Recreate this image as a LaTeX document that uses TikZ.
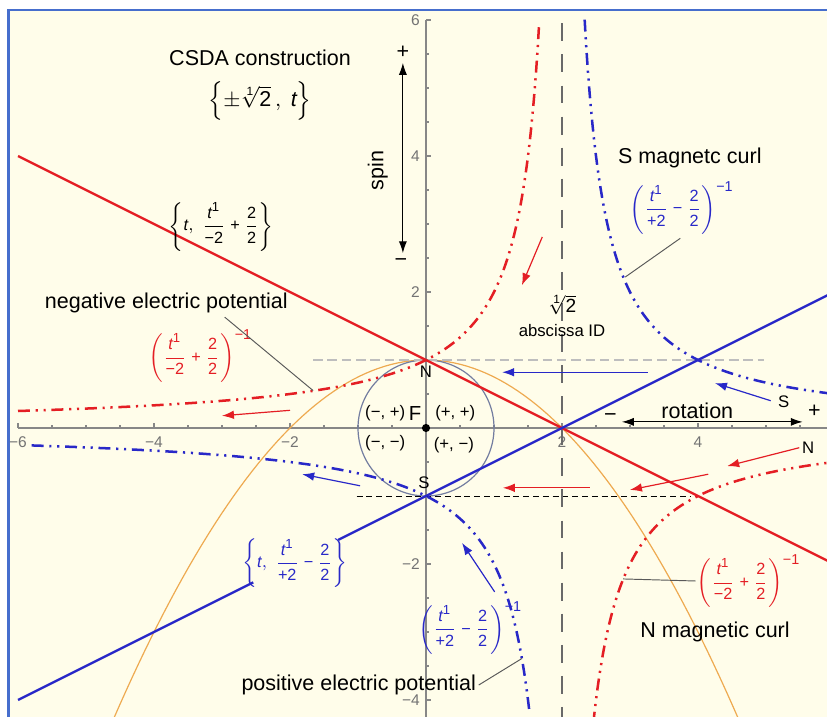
\documentclass[tikz,border=0pt]{standalone}
\usepackage{amsmath}
\usepackage{fontspec}
\setmainfont{Liberation Sans}
\usepackage{tikz}
\usetikzlibrary{arrows.meta}

\definecolor{fundo}{RGB}{255,253,234}
\definecolor{moldura}{RGB}{70,110,205}
\definecolor{vermelho}{RGB}{228,30,36}
\definecolor{azul}{RGB}{40,40,200}
\definecolor{laranja}{RGB}{238,170,80}
\definecolor{circulo}{RGB}{115,125,160}
\definecolor{eixocor}{RGB}{135,135,135}
\definecolor{numcor}{RGB}{115,115,115}
\definecolor{cinzaclaro}{RGB}{190,190,190}
\definecolor{cinzaescuro}{RGB}{105,105,105}

\newcommand{\tum}{\textit{t}^{\hbox{\fontsize{5.5}{6}\selectfont 1}}}
\newcommand{\tn}[1]{\text{#1}}
\newcommand{\menosum}{^{\hbox{\fontsize{6}{7}\selectfont −1}}}

\begin{document}
\begin{tikzpicture}[
  font=\fontsize{9}{10}\selectfont,
  eixo/.style={draw=eixocor, line width=0.45pt},
  reta/.style={line width=1pt},
  curva/.style={line width=1.05pt, dash pattern=on 5pt off 2.4pt on 0.9pt off 2.4pt on 0.9pt off 2.4pt},
  seta/.style={-{Latex[length=5pt,width=3.6pt]}, line width=0.5pt},
  dupla/.style={{Latex[length=5pt,width=3.4pt]}-{Latex[length=5pt,width=3.4pt]}, line width=0.5pt},
  chamada/.style={draw=black!65, line width=0.4pt},
  numero/.style={font=\fontsize{6.5}{7}\selectfont, text=numcor, inner sep=1pt},
  formula/.style={font=\fontsize{6.8}{8}\selectfont, inner sep=0pt},
  pequeno/.style={font=\fontsize{7}{8}\selectfont, inner sep=1pt},
  rotulo/.style={inner sep=1pt}
]

% ---------- Fundo e moldura ----------
\useasboundingbox (-6.265,-4.25) rectangle (5.897,6.294);
\fill[fundo] (-6.14,-4.25) rectangle (5.897,6.147);
\draw[moldura, line width=1.1pt] (-6.14,-4.3) -- (-6.14,6.147) -- (5.95,6.147);
\clip (-6.14,-4.25) rectangle (5.897,6.147);

% ---------- Eixos ----------
\draw[eixo] (-6,0) -- (5.9,0);
\draw[eixo] (0,-4.3) -- (0,6);
\foreach \x in {-5.5,-5,...,5.5} \draw[eixo] (\x,0) -- (\x,0.045);
\foreach \x in {-6,-4,...,4} \draw[eixo] (\x,0) -- (\x,0.08);
\foreach \y in {-4,-3.5,...,6} \draw[eixo] (0,\y) -- (0.045,\y);
\foreach \y in {-4,-2,...,6} \draw[eixo] (0,\y) -- (0.08,\y);
\foreach \x/\lbl in {-6/−6,-4/−4,-2/−2,2/2,4/4}
  \node[numero] (nx\x) at (\x,-0.21) {\lbl};
\foreach \y/\lbl in {-4/−4,-2/−2,2/2,4/4,6/6}
  \node[numero, anchor=east] (ny\y) at (-0.05,\y) {\lbl};

% ---------- Parabola, circulo, tracejadas ----------
\draw[laranja, line width=0.5pt, domain=-4.6:4.6, samples=100] plot (\x,{1-\x*\x/4});
\draw[circulo, line width=0.5pt] (0,0) circle (1);
\draw[cinzaclaro, line width=0.9pt, dash pattern=on 4pt off 2pt] (-1.66,1) -- (4.97,1);
\draw[black, line width=0.35pt, dash pattern=on 2.5pt off 1.6pt] (-1.02,-1) -- (3.88,-1);
\draw[cinzaescuro, line width=0.6pt, dash pattern=on 7.5pt off 5.5pt] (2,5.95) -- (2,-4.3);

% ---------- Retas ----------
\draw[reta, vermelho] (-6,4) -- (5.95,-1.975);
\draw[reta, azul] (-6,-4) -- (-2.54,-2.27);
\draw[reta, azul] (-1.29,-1.645) -- (5.95,1.975);

% ---------- Hiperboles ----------
\draw[curva, vermelho, domain=-6:1.667, samples=300, smooth] plot (\x,{2/(2-\x)});
\draw[curva, vermelho, domain=2.46:5.9, samples=200, smooth] plot (\x,{2/(2-\x)});
\draw[curva, azul, domain=-5.8:1.52, samples=300, smooth] plot (\x,{2/(\x-2)});
\draw[curva, azul, domain=2.333:5.9, samples=200, smooth] plot (\x,{2/(\x-2)});

% ---------- Ponto F e quadrantes ----------
\node[circle, fill=black, inner sep=0pt, minimum size=0.12cm] (F) at (0,0) {};
\node[font=\fontsize{8.5}{9}\selectfont, inner sep=1pt] (Flbl) at (-0.16,0.22) {F};
\node[pequeno] (q1) at (0.43,0.22) {(+, +)};
\node[pequeno] (q2) at (-0.6,0.22) {(−, +)};
\node[pequeno] (q3) at (-0.6,-0.22) {(−, −)};
\node[pequeno] (q4) at (0.41,-0.25) {(+, −)};
\node[pequeno] (Nlbl) at (0,0.82) {N};
\node[pequeno] (Slbl) at (-0.03,-0.81) {S};

% ---------- Titulo ----------
\node[rotulo] (tit) at (-2.44,5.44) {CSDA construction};
\node[inner sep=0pt] (titf) at (-2.44,4.81) {$\Bigl\{\pm\sqrt[\text{1}]{\text{2}}\,,\ \textit{t}\Bigr\}$};

% ---------- Spin ----------
\node[rotulo, rotate=90] (spin) at (-0.71,3.79) {spin};
\node[rotulo] (spinmais) at (-0.34,5.53) {+};
\node[rotulo] (spinmenos) at (-0.37,2.43) {−};
\coordinate (spinA) at (-0.34,2.57);
\coordinate (spinB) at (-0.34,5.37);
\draw[dupla] (spinA) -- (spinB);

% ---------- Rotation ----------
\node[rotulo] (rot) at (3.99,0.26) {rotation};
\node[rotulo] (rotmenos) at (2.71,0.15) {−};
\node[rotulo] (rotmais) at (5.71,0.24) {+};
\coordinate (rotA) at (2.88,0.09);
\coordinate (rotB) at (5.54,0.09);
\draw[dupla] (rotA) -- (rotB);

% ---------- Abscissa ----------
\node[rotulo, font=\fontsize{8}{9}\selectfont] (raiz) at (2,1.81) {$\sqrt[\text{1}]{\text{2}}$};
\node[pequeno] (absc) at (2,1.44) {abscissa ID};

% ---------- Rotulos das retas ----------
\node[formula] (fRetaV) at (-3.01,2.96)
  {$\displaystyle\left\{\textit{t},\ \frac{\tum}{\tn{−2}}\mathbin{\tn{+}}\frac{\tn{2}}{\tn{2}}\right\}$};
\node[formula, text=azul] (fRetaA) at (-1.93,-1.99)
  {$\displaystyle\left\{\textit{t},\ \frac{\tum}{\tn{+2}}\mathbin{\tn{−}}\frac{\tn{2}}{\tn{2}}\right\}$};

% ---------- Chamadas ----------
\node[rotulo] (negpot) at (-3.82,1.84) {negative electric potential};
\node[formula, text=vermelho] (fNeg) at (-3.32,1.06)
  {$\displaystyle\left(\frac{\tum}{\tn{−2}}\mathbin{\tn{+}}\frac{\tn{2}}{\tn{2}}\right)\menosum$};
\coordinate (negA) at (-2.96,1.63);
\coordinate (negB) at (-1.66,0.55);
\draw[chamada] (negA) -- (negB);

\node[rotulo] (Scurl) at (3.88,3.97) {S magnetc curl};
\node[formula, text=azul] (fS) at (3.76,3.24)
  {$\displaystyle\left(\frac{\tum}{\tn{+2}}\mathbin{\tn{−}}\frac{\tn{2}}{\tn{2}}\right)\menosum$};
\coordinate (Sa) at (3.74,2.79);
\coordinate (Sb) at (2.93,2.22);
\draw[chamada] (Sa) -- (Sb);

\node[rotulo] (pospot) at (-0.99,-3.78) {positive electric potential};
\node[formula, text=azul] (fPos) at (0.65,-2.94)
  {$\displaystyle\left(\frac{\tum}{\tn{+2}}\mathbin{\tn{−}}\frac{\tn{2}}{\tn{2}}\right)\menosum$};
\coordinate (posB) at (1.41,-3.39);
\draw[chamada] (pospot.east) -- (posB);

\node[rotulo] (Ncurl) at (4.25,-3.0) {N magnetic curl};
\node[formula, text=vermelho] (fN) at (4.74,-2.25)
  {$\displaystyle\left(\frac{\tum}{\tn{−2}}\mathbin{\tn{+}}\frac{\tn{2}}{\tn{2}}\right)\menosum$};
\coordinate (Nb) at (2.9,-2.22);
\draw[chamada] (fN.west) -- (Nb);

% ---------- Setas vermelhas ----------
\node[pequeno] (Nseta) at (5.62,-0.29) {N};
\coordinate (va1) at (1.71,2.81);  \coordinate (vb1) at (1.41,2.10);
\coordinate (va2) at (-2.0,0.26);  \coordinate (vb2) at (-3.0,0.18);
\coordinate (vb3) at (4.43,-0.56);
\coordinate (va4) at (4.15,-0.68); \coordinate (vb4) at (3.0,-0.91);
\coordinate (va5) at (2.41,-0.88); \coordinate (vb5) at (1.13,-0.88);
\draw[seta, vermelho] (va1) -- (vb1);
\draw[seta, vermelho] (va2) -- (vb2);
\draw[seta, vermelho] (Nseta.west) -- (vb3);
\draw[seta, vermelho] (va4) -- (vb4);
\draw[seta, vermelho] (va5) -- (vb5);

% ---------- Setas azuis ----------
\node[pequeno] (Sseta) at (5.26,0.38) {S};
\coordinate (aa1) at (3.26,0.82);  \coordinate (ab1) at (1.12,0.82);
\coordinate (ab2) at (4.25,0.66);
\coordinate (aa3) at (-0.97,-0.85); \coordinate (ab3) at (-1.82,-0.68);
\coordinate (aa4) at (1.01,-2.41); \coordinate (ab4) at (0.53,-1.69);
\draw[seta, azul] (aa1) -- (ab1);
\draw[seta, azul, shorten <=2pt] (Sseta.west) -- (ab2);
\draw[seta, azul] (aa3) -- (ab3);
\draw[seta, azul] (aa4) -- (ab4);

\end{tikzpicture}
\end{document}
